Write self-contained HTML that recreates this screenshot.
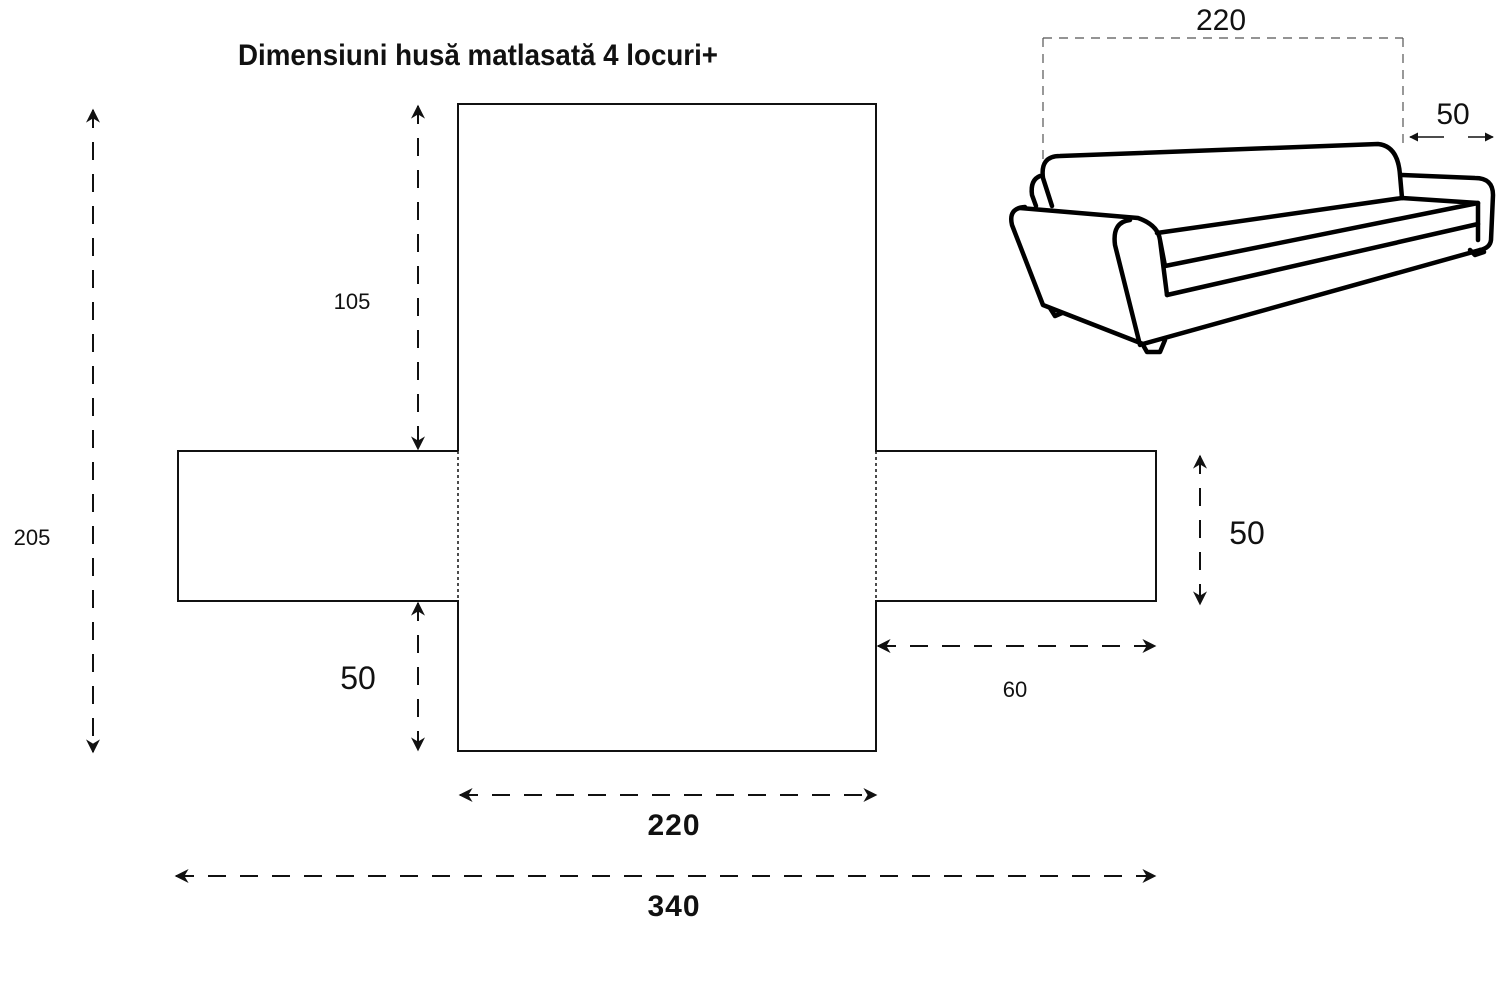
<!DOCTYPE html>
<html><head><meta charset="utf-8"><style>
html,body{margin:0;padding:0;background:#fff;}
svg{display:block;}
text{font-family:"Liberation Sans",sans-serif;fill:#111;}
</style></head><body>
<svg width="1500" height="995" viewBox="0 0 1500 995" xmlns="http://www.w3.org/2000/svg">
<defs>
<marker id="a" viewBox="0 0 10 10" refX="9" refY="5" markerWidth="9" markerHeight="9" markerUnits="userSpaceOnUse" orient="auto-start-reverse"><path d="M0,0 L10,5 L0,10 z" fill="#111"/></marker>
<marker id="b" viewBox="0 0 10 10" refX="9" refY="5" markerWidth="18" markerHeight="14" markerUnits="userSpaceOnUse" orient="auto-start-reverse"><path d="M0,0 L10,5 L0,10 L3,5 z" fill="#111"/></marker>
</defs>
<text x="238" y="65" font-size="30" font-weight="bold" textLength="480" lengthAdjust="spacingAndGlyphs">Dimensiuni husă matlasată 4 locuri+</text>

<g fill="none" stroke="#111" stroke-width="2">
<path d="M458,451 V104 H876 V451 H1156 V601 H876 V751 H458 V601 H178 V451 H458"/>
</g>
<g stroke="#111" stroke-width="1.5" stroke-dasharray="3,3">
<line x1="458" y1="451" x2="458" y2="601"/><line x1="876" y1="451" x2="876" y2="601"/>
</g>
<g stroke="#111" stroke-width="2" stroke-dasharray="18,14" fill="none">
<line x1="93" y1="110" x2="93" y2="752" marker-start="url(#b)" marker-end="url(#b)"/>
<line x1="418" y1="106" x2="418" y2="449" marker-start="url(#b)" marker-end="url(#b)"/>
<line x1="418" y1="603" x2="418" y2="750" marker-start="url(#b)" marker-end="url(#b)"/>
<line x1="1200" y1="456" x2="1200" y2="604" marker-start="url(#b)" marker-end="url(#b)"/>
<line x1="878" y1="646" x2="1155" y2="646" marker-start="url(#b)" marker-end="url(#b)"/>
<line x1="460" y1="795" x2="876" y2="795" marker-start="url(#b)" marker-end="url(#b)"/>
<line x1="176" y1="876" x2="1155" y2="876" marker-start="url(#b)" marker-end="url(#b)"/>
</g>
<g stroke="#555" stroke-width="1.2" stroke-dasharray="9,7" fill="none">
<line x1="1043" y1="38" x2="1403" y2="38"/>
<line x1="1043" y1="38" x2="1043" y2="162"/>
<line x1="1403" y1="38" x2="1403" y2="150"/>
</g>
<line x1="1410" y1="137" x2="1493" y2="137" stroke="#111" stroke-width="1.5" stroke-dasharray="34,24" marker-start="url(#a)" marker-end="url(#a)"/>

<text x="32" y="545" font-size="22" text-anchor="middle">205</text>
<text x="352" y="309" font-size="22" text-anchor="middle">105</text>
<text x="358" y="689" font-size="32" text-anchor="middle">50</text>
<text x="1247" y="544" font-size="32" text-anchor="middle">50</text>
<text x="1015" y="697" font-size="22" text-anchor="middle">60</text>
<text x="674" y="835" font-size="30" font-weight="bold" text-anchor="middle" letter-spacing="1">220</text>
<text x="674" y="916" font-size="30" font-weight="bold" text-anchor="middle" letter-spacing="1">340</text>
<text x="1221" y="30" font-size="30" text-anchor="middle">220</text>
<text x="1453" y="124" font-size="30" text-anchor="middle">50</text>

<g fill="none" stroke="#000" stroke-width="4.5" stroke-linejoin="round" stroke-linecap="round">
<path d="M1052,206 L1043,178 Q1040,156 1060,156 L1378,144 Q1398,146 1400,175 L1402,198"/>
<path d="M1040,176 Q1030,180 1032,195 L1036,206"/>
<path d="M1402,175 L1475,178 Q1493,178 1493,195 L1491,240 Q1490,248 1480,250"/>
<path d="M1478,203 L1478,240"/>
<path d="M1157,233 L1402,198 L1478,203 L1165,266"/>
<path d="M1167,295 L1478,224"/>
<path d="M1143,344 L1480,250"/>
<path d="M1020,208 L1138,218 Q1158,225 1160,240 L1167,295 M1160,240 L1165,266"/>
<path d="M1140,345 L1115,245 Q1112,222 1130,220"/>
<path d="M1143,344 L1043,305 L1012,225 Q1008,208 1025,207"/>
<path d="M1143,345 L1147,352 L1160,352 L1165,340"/>
<path d="M1050,308 L1055,316 L1062,313"/>
<path d="M1470,250 L1475,255 L1484,252"/>
</g>
</svg>
</body></html>
